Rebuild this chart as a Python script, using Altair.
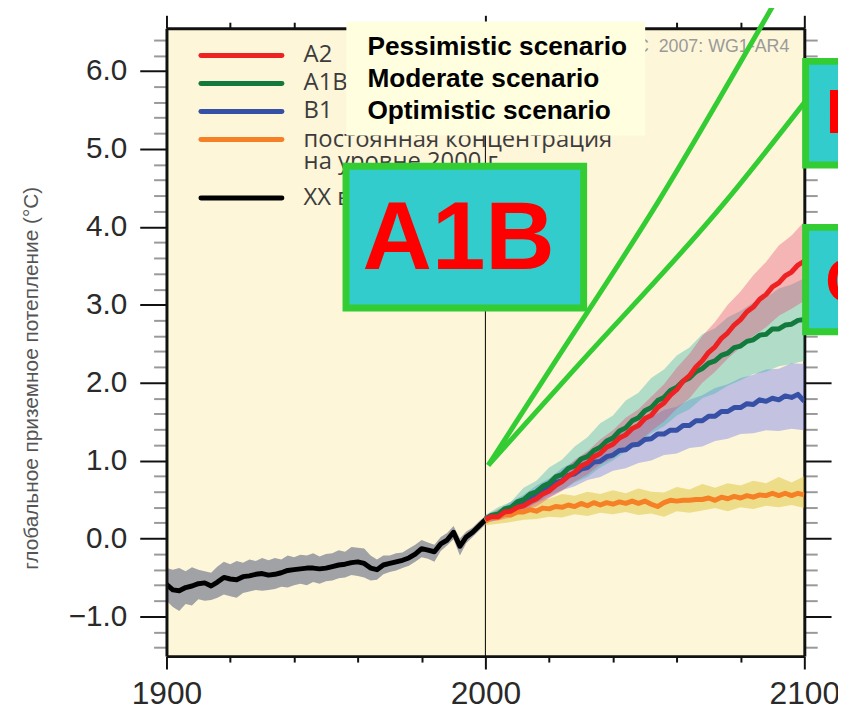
import altair as alt
import pandas as pd

# ---------------- data ----------------
hist_years = list(range(1900, 2001, 2))
hist_mean = [-0.59, -0.66, -0.67, -0.63, -0.61, -0.58, -0.57, -0.61, -0.56, -0.50,
             -0.52, -0.53, -0.49, -0.48, -0.46, -0.45, -0.47, -0.46, -0.44, -0.41,
             -0.40, -0.39, -0.38, -0.38, -0.39, -0.38, -0.36, -0.34, -0.33, -0.31,
             -0.30, -0.32, -0.38, -0.40, -0.34, -0.32, -0.30, -0.28, -0.25, -0.20,
             -0.13, -0.15, -0.17, -0.07, -0.02, 0.08, -0.10, 0.02, 0.08, 0.16, 0.24]
hist_upper = [-0.38, -0.40, -0.38, -0.42, -0.37, -0.40, -0.42, -0.44, -0.36, -0.30,
              -0.33, -0.29, -0.31, -0.27, -0.29, -0.25, -0.28, -0.25, -0.27, -0.22,
              -0.24, -0.21, -0.22, -0.19, -0.23, -0.20, -0.19, -0.15, -0.17, -0.11,
              -0.12, -0.13, -0.22, -0.27, -0.22, -0.22, -0.19, -0.18, -0.13, -0.08,
              -0.02, -0.05, -0.08, 0.02, 0.07, 0.16, 0.00, 0.09, 0.14, 0.22, 0.29]
hist_lower = [-0.80, -0.88, -0.93, -0.84, -0.86, -0.78, -0.80, -0.79, -0.76, -0.72,
              -0.74, -0.76, -0.70, -0.68, -0.66, -0.67, -0.66, -0.65, -0.62, -0.63,
              -0.60, -0.58, -0.60, -0.56, -0.58, -0.55, -0.54, -0.51, -0.50, -0.47,
              -0.48, -0.50, -0.54, -0.53, -0.46, -0.43, -0.41, -0.38, -0.35, -0.30,
              -0.24, -0.26, -0.30, -0.16, -0.09, -0.01, -0.22, -0.06, 0.02, 0.10, 0.18]

fut_years = list(range(2000, 2101, 2))
a2_mean = [0.25, 0.28, 0.28, 0.34, 0.35, 0.40, 0.42, 0.47, 0.51, 0.57,
           0.61, 0.68, 0.73, 0.80, 0.85, 0.93, 0.97, 1.05, 1.09, 1.17,
           1.21, 1.29, 1.33, 1.41, 1.45, 1.54, 1.58, 1.68, 1.74, 1.84,
           1.91, 2.02, 2.09, 2.20, 2.28, 2.39, 2.46, 2.57, 2.64, 2.74,
           2.81, 2.91, 2.97, 3.07, 3.13, 3.23, 3.28, 3.37, 3.42, 3.51, 3.56]
a1b_mean = [0.25, 0.30, 0.31, 0.38, 0.40, 0.47, 0.50, 0.57, 0.60, 0.67,
            0.71, 0.79, 0.82, 0.90, 0.93, 1.02, 1.05, 1.13, 1.17, 1.25,
            1.29, 1.38, 1.42, 1.51, 1.55, 1.64, 1.68, 1.77, 1.81, 1.90,
            1.94, 2.02, 2.06, 2.14, 2.18, 2.25, 2.28, 2.35, 2.38, 2.45,
            2.47, 2.53, 2.55, 2.61, 2.62, 2.69, 2.69, 2.74, 2.75, 2.80, 2.81]
b1_mean = [0.25, 0.29, 0.30, 0.36, 0.37, 0.44, 0.46, 0.53, 0.55, 0.62,
           0.65, 0.72, 0.74, 0.81, 0.83, 0.89, 0.91, 0.98, 0.99, 1.05,
           1.07, 1.13, 1.14, 1.20, 1.21, 1.27, 1.28, 1.34, 1.34, 1.39,
           1.39, 1.45, 1.45, 1.51, 1.51, 1.57, 1.57, 1.63, 1.63, 1.68,
           1.68, 1.73, 1.72, 1.78, 1.76, 1.80, 1.78, 1.83, 1.81, 1.85, 1.76]
commit_mean = [0.22, 0.27, 0.27, 0.31, 0.30, 0.34, 0.34, 0.37, 0.35, 0.39,
               0.38, 0.41, 0.40, 0.43, 0.41, 0.45, 0.42, 0.46, 0.43, 0.46,
               0.44, 0.47, 0.45, 0.48, 0.45, 0.48, 0.44, 0.41, 0.46, 0.49,
               0.48, 0.49, 0.49, 0.50, 0.50, 0.52, 0.49, 0.53, 0.51, 0.54,
               0.52, 0.55, 0.53, 0.56, 0.55, 0.58, 0.55, 0.58, 0.55, 0.58, 0.56]

band_years = list(range(2000, 2101, 4))
a2_upper = [0.29, 0.36, 0.41, 0.52, 0.61, 0.74, 0.85, 1.01, 1.12, 1.27, 1.39, 1.55, 1.66,
            1.82, 1.98, 2.19, 2.37, 2.60, 2.78, 3.00, 3.17, 3.38, 3.55, 3.76, 3.89, 4.07]
a2_lower = [0.21, 0.23, 0.27, 0.36, 0.41, 0.52, 0.61, 0.73, 0.82, 0.95, 1.03, 1.16, 1.24,
            1.38, 1.50, 1.67, 1.80, 2.00, 2.14, 2.31, 2.45, 2.60, 2.71, 2.86, 2.95, 3.05]
a1b_upper = [0.30, 0.40, 0.47, 0.65, 0.74, 0.91, 1.01, 1.18, 1.30, 1.48, 1.58, 1.77, 1.87,
             2.06, 2.17, 2.35, 2.45, 2.62, 2.70, 2.84, 2.92, 3.03, 3.09, 3.21, 3.26, 3.34]
a1b_lower = [0.20, 0.26, 0.31, 0.40, 0.46, 0.56, 0.62, 0.72, 0.79, 0.91, 1.00, 1.12, 1.22,
             1.35, 1.44, 1.58, 1.66, 1.80, 1.86, 1.96, 2.03, 2.11, 2.14, 2.21, 2.24, 2.28]
b1_upper = [0.30, 0.37, 0.47, 0.56, 0.68, 0.77, 0.90, 0.99, 1.11, 1.19, 1.31, 1.38, 1.49,
            1.56, 1.65, 1.69, 1.78, 1.84, 1.93, 1.98, 2.06, 2.10, 2.17, 2.18, 2.25, 2.24]
b1_lower = [0.20, 0.24, 0.31, 0.36, 0.46, 0.53, 0.62, 0.67, 0.75, 0.79, 0.87, 0.90, 0.97,
            1.00, 1.07, 1.09, 1.16, 1.18, 1.25, 1.28, 1.34, 1.35, 1.39, 1.38, 1.41, 1.39]
commit_upper = [0.27, 0.38, 0.44, 0.47, 0.52, 0.51, 0.57, 0.55, 0.60, 0.57, 0.62, 0.58, 0.64,
                0.60, 0.59, 0.66, 0.63, 0.70, 0.65, 0.71, 0.68, 0.74, 0.71, 0.79, 0.72, 0.80]
commit_lower = [0.17, 0.19, 0.21, 0.24, 0.25, 0.28, 0.27, 0.31, 0.29, 0.33, 0.31, 0.34, 0.30,
                0.32, 0.28, 0.35, 0.33, 0.36, 0.39, 0.35, 0.40, 0.38, 0.42, 0.40, 0.43, 0.39]

legend_labels = ["A2", "A1B", "B1", "постоянная концентрация", "на уровне 2000 г.", "XX век"]
legend_colors = ["#EE2222", "#117A3C", "#3550A5", "#F58025", "rgba(0,0,0,0)", "#000000"]

scenario_texts = ["Pessimistic scenario", "Moderate scenario", "Optimistic scenario"]
box_texts = ["A1B", "B1", "C"]
source_text = "IPCC\u00a0 2007: WG1-AR4"
y_title = "глобальное приземное потепление (°С)"

x_tick_values = list(range(1900, 2101, 20))
y_tick_values = [round(-1.4 + 0.2 * i, 1) for i in range(40)]

# ---------------- annotation layout (data units) ----------------
legend_rows_y = [6.20, 5.84, 5.48, 5.12, 4.83, 4.37]
legend_line_x = (1910.8, 1936.2)
legend_text_x = 1943.0

scen_box = dict(x=1956.4, x2=2050.1, y=6.635, y2=5.173)
scen_text_x = 1963.0
scen_text_y = [6.21, 5.80, 5.39]

source_pos = (2095.3, 6.241)

callout_id = ["a"] * 4 + ["b"] * 4
callout_year = [2000.9, 2020.3, 2054.3, 2090.6, 2000.9, 2027.9, 2075.4, 2102.4]
callout_val = [0.94, 2.17, 4.33, 6.87, 0.94, 2.17, 4.33, 5.72]

box_x = [1956.3, 2100.4, 2100.4]
box_x2 = [2030.8, 2135.0, 2135.0]
box_y = [4.777, 6.124, 3.993]
box_y2 = [2.959, 4.793, 2.654]
box_text_x = [1991.6, 2106.7, 2106.6]
box_text_y = [3.461, 5.207, 3.03]
box_text_align = ["center", "left", "left"]
box_text_size = [97, 64, 64]

# ---------------- scales / axes ----------------
X_SCALE = alt.Scale(domain=[1900, 2100], nice=False, zero=False)
Y_SCALE = alt.Scale(domain=[-1.51, 6.55], nice=False, zero=False)

x_major = "datum.value % 100 == 0"
y_major = "abs(datum.value - round(datum.value)) < 0.001"
NARROW = "Liberation Sans Narrow, Arial Narrow, sans-serif"
ARIAL = "Liberation Sans, Arial, sans-serif"


def x_axis(orient, labels, z):
    kw = dict(orient=orient, values=x_tick_values, format="d", grid=False, title=None,
              tickSize={"condition": {"test": x_major, "value": 13}, "value": 6},
              tickWidth=2, tickColor="#111", domainColor="#111", domainWidth=3,
              labels=labels, zindex=z)
    if labels:
        kw.update(labelExpr=f"{x_major} ? datum.label : ''", labelFont=ARIAL,
                  labelFontSize=32, labelColor="#2a2a2a", labelPadding=10,
                  labelFlush=False, labelBound=False, labelOverlap=False)
    return alt.Axis(**kw)


def y_axis(orient, labels, z):
    kw = dict(orient=orient, values=y_tick_values, grid=False,
              tickSize={"condition": {"test": y_major, "value": 27}, "value": 13},
              tickColor={"condition": {"test": y_major, "value": "#111"}, "value": "#999"},
              tickWidth=2, domainColor="#111", domainWidth=3, labels=labels, zindex=z)
    if labels:
        kw.update(labelExpr=f"{y_major} ? format(datum.value, '.1f') : ''",
                  labelFont=ARIAL, labelFontSize=30, labelColor="#2a2a2a",
                  labelPadding=13, labelOverlap=False, labelFlush=False,
                  title=y_title, titleFont=NARROW, titleFontSize=21,
                  titleFontWeight="normal", titleColor="#555", titleAngle=-90,
                  titleX=-136, titleY=353, titleAlign="center", titleBaseline="middle")
    else:
        kw.update(title=None)
    return alt.Axis(**kw)


def X(field, axis=None):
    return alt.X(field, type="quantitative", scale=X_SCALE, axis=axis)


def Y(field, axis=None):
    return alt.Y(field, type="quantitative", scale=Y_SCALE, axis=axis)


# ---------------- frames ----------------
hist_df = pd.DataFrame({"year": hist_years, "mean": hist_mean,
                        "upper": hist_upper, "lower": hist_lower})

scen = [
    ("commit", commit_mean, commit_upper, commit_lower, "#F58025", "#DFC438", 0.5),
    ("B1", b1_mean, b1_upper, b1_lower, "#3550A5", "#6C76EC", 0.4),
    ("A1B", a1b_mean, a1b_upper, a1b_lower, "#117A3C", "#3FB7AD", 0.4),
    ("A2", a2_mean, a2_upper, a2_lower, "#EE2222", "#E63C74", 0.35),
]

layers = []

rule_df = pd.DataFrame({"year": [2000]})
layers.append(alt.Chart(rule_df).mark_rule(color="#000", strokeWidth=1).encode(x=X("year")))

layers.append(
    alt.Chart(hist_df).mark_area(color="#A0A2A6", clip=True).encode(
        x=X("year", x_axis("bottom", True, 1)),
        y=Y("lower", y_axis("left", True, 1)),
        y2="upper",
    )
)

for name, mean, up, lo, lc, bc, op in scen:
    bdf = pd.DataFrame({"year": band_years, "upper": up, "lower": lo})
    layers.append(
        alt.Chart(bdf).mark_area(color=bc, opacity=op, clip=True).encode(
            x=X("year"), y=Y("lower"), y2="upper")
    )

layers.append(
    alt.Chart(hist_df).mark_line(color="#000", strokeWidth=5, strokeJoin="round", clip=True).encode(
        x=X("year", x_axis("top", False, 0)),
        y=Y("mean", y_axis("right", False, 0)),
    )
)

for name, mean, up, lo, lc, bc, op in scen:
    ldf = pd.DataFrame({"year": fut_years, "mean": mean})
    layers.append(
        alt.Chart(ldf).mark_line(color=lc, strokeWidth=5, strokeJoin="round", clip=True).encode(
            x=X("year"), y=Y("mean"))
    )

# source text
src_df = pd.DataFrame({"x": [source_pos[0]], "y": [source_pos[1]], "t": [source_text]})
layers.append(
    alt.Chart(src_df).mark_text(align="right", baseline="alphabetic", font=ARIAL, fontSize=18,
                                color="#9a9a9a", clip=False).encode(x=X("x"), y=Y("y"), text="t:N")
)

# legend
leg_df = pd.DataFrame({"label": legend_labels, "y": legend_rows_y,
                       "x0": [legend_line_x[0]] * len(legend_labels),
                       "x1": [legend_line_x[1]] * len(legend_labels),
                       "tx": [legend_text_x] * len(legend_labels)})
layers.append(
    alt.Chart(leg_df).mark_rule(strokeWidth=5, strokeCap="round", clip=False).encode(
        x=X("x0"), x2="x1", y=Y("y"),
        color=alt.Color("label:N", scale=alt.Scale(domain=legend_labels, range=legend_colors),
                        legend=None),
    )
)
layers.append(
    alt.Chart(leg_df).mark_text(align="left", baseline="middle", font="Open Sans", fontSize=24,
                                color="#3c3c3c", clip=False).encode(x=X("tx"), y=Y("y"), text="label:N")
)

# scenario box
sb_df = pd.DataFrame({"x": [scen_box["x"]], "x2": [scen_box["x2"]],
                      "y": [scen_box["y"]], "y2": [scen_box["y2"]]})
layers.append(
    alt.Chart(sb_df).mark_rect(fill="#FFFFE0", clip=False).encode(
        x=X("x"), x2="x2", y=Y("y"), y2="y2")
)
st_df = pd.DataFrame({"t": scenario_texts, "y": scen_text_y, "x": [scen_text_x] * 3})
layers.append(
    alt.Chart(st_df).mark_text(align="left", baseline="alphabetic", font=ARIAL, fontWeight="bold",
                               fontSize=26.5, color="#000", clip=False).encode(
        x=X("x"), y=Y("y"), text="t:N")
)

# callout lines
co_df = pd.DataFrame({"id": callout_id, "year": callout_year, "val": callout_val})
layers.append(
    alt.Chart(co_df).mark_line(color="#33CC33", strokeWidth=5, interpolate="monotone",
                               clip=False).encode(x=X("year"), y=Y("val"), detail="id:N")
)

# coloured boxes
bx_df = pd.DataFrame({"x": box_x, "x2": box_x2, "y": box_y, "y2": box_y2})
layers.append(
    alt.Chart(bx_df).mark_rect(fill="#33CCCC", stroke="#33CC33", strokeWidth=7, clip=False).encode(
        x=X("x"), x2="x2", y=Y("y"), y2="y2")
)
for t, tx, ty, al, fs in zip(box_texts, box_text_x, box_text_y, box_text_align, box_text_size):
    tdf = pd.DataFrame({"t": [t], "x": [tx], "y": [ty]})
    layers.append(
        alt.Chart(tdf).mark_text(align=al, baseline="alphabetic", font=ARIAL, fontWeight="bold",
                                 fontSize=fs, color="#FF0000", clip=False).encode(
            x=X("x"), y=Y("y"), text="t:N")
    )

chart = (
    alt.layer(*layers)
    .resolve_axis(x="independent", y="independent")
    .properties(width=644, height=634,
                autosize=alt.AutoSizeParams(type="none"),
                padding={"left": 160, "top": 17, "right": 34, "bottom": 49})
    .configure_view(fill="#FDF6D9", strokeWidth=0)
)

chart.save("out.html", embed_options={"renderer": "svg", "actions": False})
